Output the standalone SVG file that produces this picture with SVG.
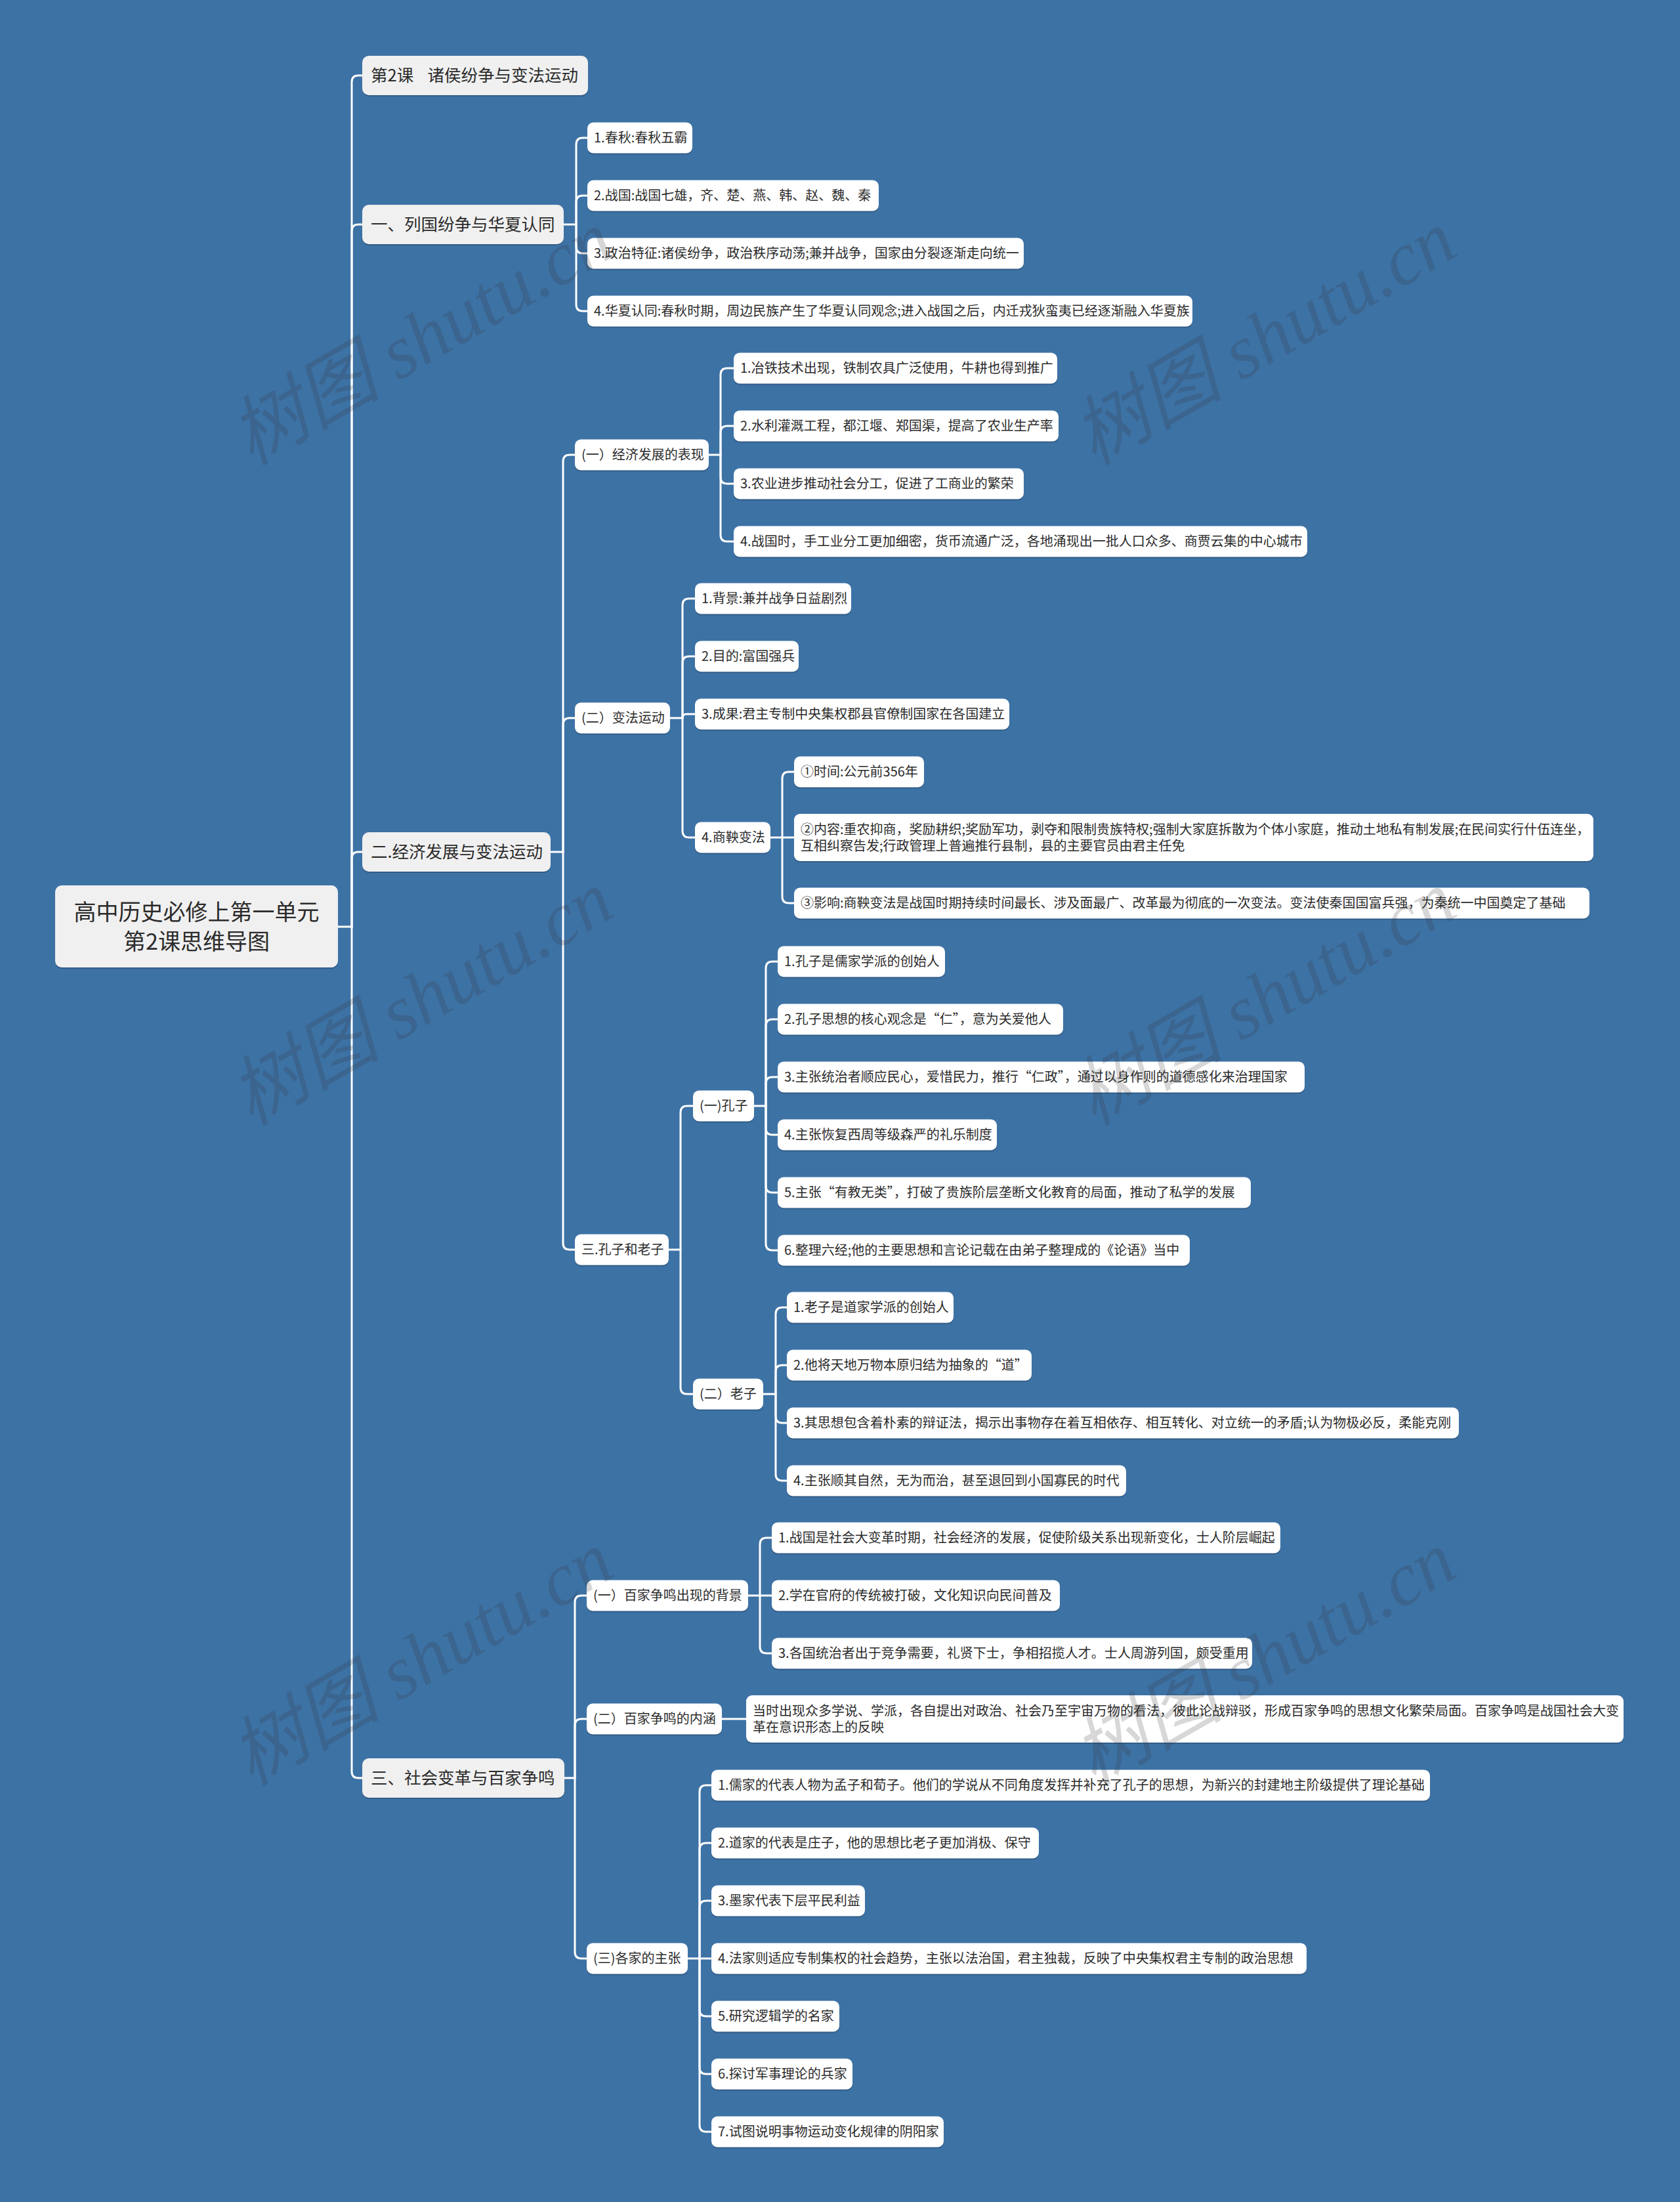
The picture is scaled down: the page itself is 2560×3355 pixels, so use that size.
<svg xmlns="http://www.w3.org/2000/svg" width="2560" height="3355" viewBox="0 0 2560 3355" xml:lang="zh-CN">
<style>
.bg{fill:#3d72a5}
.sh{fill:#000;opacity:.18}
.n rect.b{fill:#ffffff}
.l1 rect.b{fill:#f0f0f0}
text{fill:#2b2b2b;font-family:"Noto Sans CJK SC","Noto Sans",sans-serif}
.t20{font-size:20px}
.t25{font-size:25.5px;white-space:pre}
.t34{font-size:34px}
.conn path{fill:none;stroke:#ffffff;stroke-width:3;stroke-linecap:round}
.wm{font-family:"Liberation Serif","Noto Sans CJK SC",serif;font-style:italic;font-size:115px;fill:#333;opacity:.19}
</style>
<rect class="bg" x="0" y="0" width="2560" height="3355"/>

<g id="connectors" class="conn">
<path d="M515,1412 H536"/>
<path d="M536,1412 V125 Q536,115 546,115 H552"/>
<path d="M536,1412 V352 Q536,342 546,342 H552"/>
<path d="M536,1412 V1308 Q536,1298 546,1298 H552"/>
<path d="M536,1412 V2699 Q536,2709 546,2709 H552"/>

<path d="M859,342 H878"/>
<path d="M878,342 V220 Q878,210 888,210 H895"/>
<path d="M878,342 V308 Q878,298 888,298 H895"/>
<path d="M878,342 V376 Q878,386 888,386 H895"/>
<path d="M878,342 V464 Q878,474 888,474 H895"/>

<path d="M839,1298 H858"/>
<path d="M858,1298 V703 Q858,693 868,693 H876"/>
<path d="M858,1298 V1104 Q858,1094 868,1094 H876"/>
<path d="M858,1298 V1894 Q858,1904 868,1904 H876"/>

<path d="M1080,693 H1098"/>
<path d="M1098,693 V571 Q1098,561 1108,561 H1118"/>
<path d="M1098,693 V659 Q1098,649 1108,649 H1118"/>
<path d="M1098,693 V727 Q1098,737 1108,737 H1118"/>
<path d="M1098,693 V815 Q1098,825 1108,825 H1118"/>

<path d="M1021,1094 H1040"/>
<path d="M1040,1094 V922 Q1040,912 1050,912 H1059"/>
<path d="M1040,1094 V1010 Q1040,1000 1050,1000 H1059"/>
<path d="M1040,1094 Q1040,1088 1046,1088 H1059"/>
<path d="M1040,1094 V1266 Q1040,1276 1050,1276 H1059"/>

<path d="M1174,1276 H1210"/>
<path d="M1192,1276 V1186 Q1192,1176 1202,1176 H1210"/>
<path d="M1192,1276 V1366 Q1192,1376 1202,1376 H1210"/>

<path d="M1019,1904 H1037"/>
<path d="M1037,1904 V1695 Q1037,1685 1047,1685 H1056"/>
<path d="M1037,1904 V2114 Q1037,2124 1047,2124 H1056"/>

<path d="M1149,1685 H1167"/>
<path d="M1167,1685 V1475 Q1167,1465 1177,1465 H1185"/>
<path d="M1167,1685 V1563 Q1167,1553 1177,1553 H1185"/>
<path d="M1167,1685 V1651 Q1167,1641 1177,1641 H1185"/>
<path d="M1167,1685 V1719 Q1167,1729 1177,1729 H1185"/>
<path d="M1167,1685 V1807 Q1167,1817 1177,1817 H1185"/>
<path d="M1167,1685 V1895 Q1167,1905 1177,1905 H1185"/>

<path d="M1163,2124 H1182"/>
<path d="M1182,2124 V2002 Q1182,1992 1192,1992 H1199"/>
<path d="M1182,2124 V2090 Q1182,2080 1192,2080 H1199"/>
<path d="M1182,2124 V2158 Q1182,2168 1192,2168 H1199"/>
<path d="M1182,2124 V2246 Q1182,2256 1192,2256 H1199"/>

<path d="M860,2709 H876"/>
<path d="M876,2709 V2441 Q876,2431 886,2431 H894"/>
<path d="M876,2709 V2629 Q876,2619 886,2619 H894"/>
<path d="M876,2709 V2974 Q876,2984 886,2984 H894"/>

<path d="M1140,2431 H1176"/>
<path d="M1158,2431 V2353 Q1158,2343 1168,2343 H1176"/>
<path d="M1158,2431 V2509 Q1158,2519 1168,2519 H1176"/>

<path d="M1100,2619 H1137"/>

<path d="M1048,2984 H1084"/>
<path d="M1066,2984 V2730 Q1066,2720 1076,2720 H1084"/>
<path d="M1066,2984 V2818 Q1066,2808 1076,2808 H1084"/>
<path d="M1066,2984 V2906 Q1066,2896 1076,2896 H1084"/>
<path d="M1066,2984 V3062 Q1066,3072 1076,3072 H1084"/>
<path d="M1066,2984 V3150 Q1066,3160 1076,3160 H1084"/>
<path d="M1066,2984 V3238 Q1066,3248 1076,3248 H1084"/>
</g>

<!-- root -->
<g id="root" class="l1">
<rect class="sh" x="84" y="1351" width="431" height="125" rx="10"/>
<rect class="b" x="84" y="1349" width="431" height="125" rx="10"/>
<text class="t34" x="299.5" y="1402" text-anchor="middle">高中历史必修上第一单元</text>
<text class="t34" x="299.5" y="1447" text-anchor="middle">第2课思维导图</text>
</g>

<!-- level 1 -->
<g id="n-a" class="l1">
<rect class="sh" x="552" y="87" width="344" height="60" rx="10"/>
<rect class="b" x="552" y="85" width="344" height="60" rx="10"/>
<text class="t25" x="565" y="124">第2课 <tspan dx="10"> </tspan>诸侯纷争与变法运动</text>
</g>
<g id="n-b" class="l1">
<rect class="sh" x="552" y="314" width="307" height="60" rx="10"/>
<rect class="b" x="552" y="312" width="307" height="60" rx="10"/>
<text class="t25" x="565" y="351">一、列国纷争与华夏认同</text>
</g>
<g id="n-c" class="l1">
<rect class="sh" x="552" y="1270" width="287" height="60" rx="10"/>
<rect class="b" x="552" y="1268" width="287" height="60" rx="10"/>
<text class="t25" x="565" y="1307">二.经济发展与变法运动</text>
</g>
<g id="n-d" class="l1">
<rect class="sh" x="552" y="2681" width="308" height="60" rx="10"/>
<rect class="b" x="552" y="2679" width="308" height="60" rx="10"/>
<text class="t25" x="565" y="2718">三、社会变革与百家争鸣</text>
</g>

<!-- B children -->
<g id="n-b1" class="n"><rect class="sh" x="895" y="188.5" width="160" height="47" rx="9"/><rect class="b" x="895" y="186.5" width="160" height="47" rx="9"/><text class="t20" x="905" y="217">1.春秋:春秋五霸</text></g>
<g id="n-b2" class="n"><rect class="sh" x="895" y="276.5" width="444" height="47" rx="9"/><rect class="b" x="895" y="274.5" width="444" height="47" rx="9"/><text class="t20" x="905" y="305">2.战国:战国七雄，齐、楚、燕、韩、赵、魏、秦</text></g>
<g id="n-b3" class="n"><rect class="sh" x="895" y="364.5" width="665" height="47" rx="9"/><rect class="b" x="895" y="362.5" width="665" height="47" rx="9"/><text class="t20" x="905" y="393">3.政治特征:诸侯纷争，政治秩序动荡;兼并战争，国家由分裂逐渐走向统一</text></g>
<g id="n-b4" class="n"><rect class="sh" x="895" y="452.5" width="922" height="47" rx="9"/><rect class="b" x="895" y="450.5" width="922" height="47" rx="9"/><text class="t20" x="905" y="481">4.华夏认同:春秋时期，周边民族产生了华夏认同观念;进入战国之后，内迁戎狄蛮夷已经逐渐融入华夏族</text></g>

<!-- C1 -->
<g id="n-c1" class="n"><rect class="sh" x="876" y="671.5" width="204" height="47" rx="9"/><rect class="b" x="876" y="669.5" width="204" height="47" rx="9"/><text class="t20" x="886" y="700">(一）经济发展的表现</text></g>
<g id="n-c1-1" class="n"><rect class="sh" x="1118" y="539.5" width="493" height="47" rx="9"/><rect class="b" x="1118" y="537.5" width="493" height="47" rx="9"/><text class="t20" x="1128" y="568">1.冶铁技术出现，铁制农具广泛使用，牛耕也得到推广</text></g>
<g id="n-c1-2" class="n"><rect class="sh" x="1118" y="627.5" width="495" height="47" rx="9"/><rect class="b" x="1118" y="625.5" width="495" height="47" rx="9"/><text class="t20" x="1128" y="656">2.水利灌溉工程，都江堰、郑国渠，提高了农业生产率</text></g>
<g id="n-c1-3" class="n"><rect class="sh" x="1118" y="715.5" width="442" height="47" rx="9"/><rect class="b" x="1118" y="713.5" width="442" height="47" rx="9"/><text class="t20" x="1128" y="744">3.农业进步推动社会分工，促进了工商业的繁荣</text></g>
<g id="n-c1-4" class="n"><rect class="sh" x="1118" y="803.5" width="874" height="47" rx="9"/><rect class="b" x="1118" y="801.5" width="874" height="47" rx="9"/><text class="t20" x="1128" y="832">4.战国时，手工业分工更加细密，货币流通广泛，各地涌现出一批人口众多、商贾云集的中心城市</text></g>

<!-- C2 -->
<g id="n-c2" class="n"><rect class="sh" x="876" y="1072.5" width="145" height="47" rx="9"/><rect class="b" x="876" y="1070.5" width="145" height="47" rx="9"/><text class="t20" x="886" y="1101">(二）变法运动</text></g>
<g id="n-c2-1" class="n"><rect class="sh" x="1059" y="890.5" width="238" height="47" rx="9"/><rect class="b" x="1059" y="888.5" width="238" height="47" rx="9"/><text class="t20" x="1069" y="919">1.背景:兼并战争日益剧烈</text></g>
<g id="n-c2-2" class="n"><rect class="sh" x="1059" y="978.5" width="158" height="47" rx="9"/><rect class="b" x="1059" y="976.5" width="158" height="47" rx="9"/><text class="t20" x="1069" y="1007">2.目的:富国强兵</text></g>
<g id="n-c2-3" class="n"><rect class="sh" x="1059" y="1066.5" width="479" height="47" rx="9"/><rect class="b" x="1059" y="1064.5" width="479" height="47" rx="9"/><text class="t20" x="1069" y="1095">3.成果:君主专制中央集权郡县官僚制国家在各国建立</text></g>
<g id="n-c2-4" class="n"><rect class="sh" x="1059" y="1254.5" width="115" height="47" rx="9"/><rect class="b" x="1059" y="1252.5" width="115" height="47" rx="9"/><text class="t20" x="1069" y="1283">4.商鞅变法</text></g>
<g id="n-c2-4-1" class="n"><rect class="sh" x="1210" y="1154.5" width="198" height="47" rx="9"/><rect class="b" x="1210" y="1152.5" width="198" height="47" rx="9"/><text class="t20" x="1220" y="1183">①时间:公元前356年</text></g>
<g id="n-c2-4-2" class="n"><rect class="sh" x="1210" y="1242" width="1218" height="72" rx="9"/><rect class="b" x="1210" y="1240" width="1218" height="72" rx="9"/><text class="t20" x="1220" y="1271">②内容:重农抑商，奖励耕织;奖励军功，剥夺和限制贵族特权;强制大家庭拆散为个体小家庭，推动土地私有制发展;在民间实行什伍连坐，</text><text class="t20" x="1220" y="1296">互相纠察告发;行政管理上普遍推行县制，县的主要官员由君主任免</text></g>
<g id="n-c2-4-3" class="n"><rect class="sh" x="1210" y="1354.5" width="1212" height="47" rx="9"/><rect class="b" x="1210" y="1352.5" width="1212" height="47" rx="9"/><text class="t20" x="1220" y="1383">③影响:商鞅变法是战国时期持续时间最长、涉及面最广、改革最为彻底的一次变法。变法使秦国国富兵强，为秦统一中国奠定了基础</text></g>

<!-- C3 -->
<g id="n-c3" class="n"><rect class="sh" x="876" y="1882.5" width="143" height="47" rx="9"/><rect class="b" x="876" y="1880.5" width="143" height="47" rx="9"/><text class="t20" x="886" y="1911">三.孔子和老子</text></g>
<g id="n-c3-1" class="n"><rect class="sh" x="1056" y="1663.5" width="93" height="47" rx="9"/><rect class="b" x="1056" y="1661.5" width="93" height="47" rx="9"/><text class="t20" x="1066" y="1692">(一)孔子</text></g>
<g id="n-c3-1-1" class="n"><rect class="sh" x="1185" y="1443.5" width="255" height="47" rx="9"/><rect class="b" x="1185" y="1441.5" width="255" height="47" rx="9"/><text class="t20" x="1195" y="1472">1.孔子是儒家学派的创始人</text></g>
<g id="n-c3-1-2" class="n"><rect class="sh" x="1185" y="1531.5" width="435" height="47" rx="9"/><rect class="b" x="1185" y="1529.5" width="435" height="47" rx="9"/><text class="t20" x="1195" y="1560">2.孔子思想的核心观念是“仁”，意为关爱他人</text></g>
<g id="n-c3-1-3" class="n"><rect class="sh" x="1185" y="1619.5" width="803" height="47" rx="9"/><rect class="b" x="1185" y="1617.5" width="803" height="47" rx="9"/><text class="t20" x="1195" y="1648">3.主张统治者顺应民心，爱惜民力，推行“仁政”，通过以身作则的道德感化来治理国家</text></g>
<g id="n-c3-1-4" class="n"><rect class="sh" x="1185" y="1707.5" width="334" height="47" rx="9"/><rect class="b" x="1185" y="1705.5" width="334" height="47" rx="9"/><text class="t20" x="1195" y="1736">4.主张恢复西周等级森严的礼乐制度</text></g>
<g id="n-c3-1-5" class="n"><rect class="sh" x="1185" y="1795.5" width="721" height="47" rx="9"/><rect class="b" x="1185" y="1793.5" width="721" height="47" rx="9"/><text class="t20" x="1195" y="1824">5.主张“有教无类”，打破了贵族阶层垄断文化教育的局面，推动了私学的发展</text></g>
<g id="n-c3-1-6" class="n"><rect class="sh" x="1185" y="1883.5" width="628" height="47" rx="9"/><rect class="b" x="1185" y="1881.5" width="628" height="47" rx="9"/><text class="t20" x="1195" y="1912">6.整理六经;他的主要思想和言论记载在由弟子整理成的《论语》当中</text></g>
<g id="n-c3-2" class="n"><rect class="sh" x="1056" y="2102.5" width="107" height="47" rx="9"/><rect class="b" x="1056" y="2100.5" width="107" height="47" rx="9"/><text class="t20" x="1066" y="2131">(二）老子</text></g>
<g id="n-c3-2-1" class="n"><rect class="sh" x="1199" y="1970.5" width="254" height="47" rx="9"/><rect class="b" x="1199" y="1968.5" width="254" height="47" rx="9"/><text class="t20" x="1209" y="1999">1.老子是道家学派的创始人</text></g>
<g id="n-c3-2-2" class="n"><rect class="sh" x="1199" y="2058.5" width="373" height="47" rx="9"/><rect class="b" x="1199" y="2056.5" width="373" height="47" rx="9"/><text class="t20" x="1209" y="2087">2.他将天地万物本原归结为抽象的“道”</text></g>
<g id="n-c3-2-3" class="n"><rect class="sh" x="1199" y="2146.5" width="1024" height="47" rx="9"/><rect class="b" x="1199" y="2144.5" width="1024" height="47" rx="9"/><text class="t20" x="1209" y="2175">3.其思想包含着朴素的辩证法，揭示出事物存在着互相依存、相互转化、对立统一的矛盾;认为物极必反，柔能克刚</text></g>
<g id="n-c3-2-4" class="n"><rect class="sh" x="1199" y="2234.5" width="517" height="47" rx="9"/><rect class="b" x="1199" y="2232.5" width="517" height="47" rx="9"/><text class="t20" x="1209" y="2263">4.主张顺其自然，无为而治，甚至退回到小国寡民的时代</text></g>

<!-- D -->
<g id="n-d1" class="n"><rect class="sh" x="894" y="2409.5" width="246" height="47" rx="9"/><rect class="b" x="894" y="2407.5" width="246" height="47" rx="9"/><text class="t20" x="904" y="2438">(一）百家争鸣出现的背景</text></g>
<g id="n-d1-1" class="n"><rect class="sh" x="1176" y="2321.5" width="775" height="47" rx="9"/><rect class="b" x="1176" y="2319.5" width="775" height="47" rx="9"/><text class="t20" x="1186" y="2350">1.战国是社会大变革时期，社会经济的发展，促使阶级关系出现新变化，士人阶层崛起</text></g>
<g id="n-d1-2" class="n"><rect class="sh" x="1176" y="2409.5" width="439" height="47" rx="9"/><rect class="b" x="1176" y="2407.5" width="439" height="47" rx="9"/><text class="t20" x="1186" y="2438">2.学在官府的传统被打破，文化知识向民间普及</text></g>
<g id="n-d1-3" class="n"><rect class="sh" x="1176" y="2497.5" width="732" height="47" rx="9"/><rect class="b" x="1176" y="2495.5" width="732" height="47" rx="9"/><text class="t20" x="1186" y="2526">3.各国统治者出于竞争需要，礼贤下士，争相招揽人才。士人周游列国，颇受重用</text></g>
<g id="n-d2" class="n"><rect class="sh" x="894" y="2597.5" width="206" height="47" rx="9"/><rect class="b" x="894" y="2595.5" width="206" height="47" rx="9"/><text class="t20" x="904" y="2626">(二）百家争鸣的内涵</text></g>
<g id="n-d2-1" class="n"><rect class="sh" x="1137" y="2585" width="1337" height="72" rx="9"/><rect class="b" x="1137" y="2583" width="1337" height="72" rx="9"/><text class="t20" x="1147" y="2614">当时出现众多学说、学派，各自提出对政治、社会乃至宇宙万物的看法，彼此论战辩驳，形成百家争鸣的思想文化繁荣局面。百家争鸣是战国社会大变</text><text class="t20" x="1147" y="2639">革在意识形态上的反映</text></g>
<g id="n-d3" class="n"><rect class="sh" x="894" y="2962.5" width="154" height="47" rx="9"/><rect class="b" x="894" y="2960.5" width="154" height="47" rx="9"/><text class="t20" x="904" y="2991">(三)各家的主张</text></g>
<g id="n-d3-1" class="n"><rect class="sh" x="1084" y="2698.5" width="1095" height="47" rx="9"/><rect class="b" x="1084" y="2696.5" width="1095" height="47" rx="9"/><text class="t20" x="1094" y="2727">1.儒家的代表人物为孟子和荀子。他们的学说从不同角度发挥并补充了孔子的思想，为新兴的封建地主阶级提供了理论基础</text></g>
<g id="n-d3-2" class="n"><rect class="sh" x="1084" y="2786.5" width="499" height="47" rx="9"/><rect class="b" x="1084" y="2784.5" width="499" height="47" rx="9"/><text class="t20" x="1094" y="2815">2.道家的代表是庄子，他的思想比老子更加消极、保守</text></g>
<g id="n-d3-3" class="n"><rect class="sh" x="1084" y="2874.5" width="234" height="47" rx="9"/><rect class="b" x="1084" y="2872.5" width="234" height="47" rx="9"/><text class="t20" x="1094" y="2903">3.墨家代表下层平民利益</text></g>
<g id="n-d3-4" class="n"><rect class="sh" x="1084" y="2962.5" width="907" height="47" rx="9"/><rect class="b" x="1084" y="2960.5" width="907" height="47" rx="9"/><text class="t20" x="1094" y="2991">4.法家则适应专制集权的社会趋势，主张以法治国，君主独裁，反映了中央集权君主专制的政治思想</text></g>
<g id="n-d3-5" class="n"><rect class="sh" x="1084" y="3050.5" width="195" height="47" rx="9"/><rect class="b" x="1084" y="3048.5" width="195" height="47" rx="9"/><text class="t20" x="1094" y="3079">5.研究逻辑学的名家</text></g>
<g id="n-d3-6" class="n"><rect class="sh" x="1084" y="3138.5" width="215" height="47" rx="9"/><rect class="b" x="1084" y="3136.5" width="215" height="47" rx="9"/><text class="t20" x="1094" y="3167">6.探讨军事理论的兵家</text></g>
<g id="n-d3-7" class="n"><rect class="sh" x="1084" y="3226.5" width="354" height="47" rx="9"/><rect class="b" x="1084" y="3224.5" width="354" height="47" rx="9"/><text class="t20" x="1094" y="3255">7.试图说明事物运动变化规律的阴阳家</text></g>

<g id="watermark">
<text class="wm" transform="translate(642,514) rotate(-30)" text-anchor="middle" y="40">树图 shutu.cn</text>
<text class="wm" transform="translate(1926,514) rotate(-30)" text-anchor="middle" y="40">树图 shutu.cn</text>
<text class="wm" transform="translate(642,1520) rotate(-30)" text-anchor="middle" y="40">树图 shutu.cn</text>
<text class="wm" transform="translate(1926,1520) rotate(-30)" text-anchor="middle" y="40">树图 shutu.cn</text>
<text class="wm" transform="translate(642,2526) rotate(-30)" text-anchor="middle" y="40">树图 shutu.cn</text>
<text class="wm" transform="translate(1926,2526) rotate(-30)" text-anchor="middle" y="40">树图 shutu.cn</text>
</g>
</svg>
